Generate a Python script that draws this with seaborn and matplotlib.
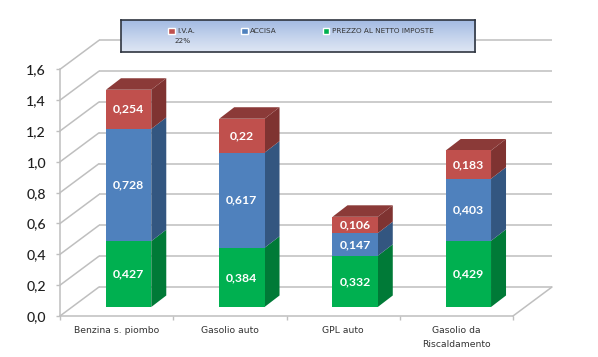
import numpy as np
import matplotlib
matplotlib.use("Agg")
import matplotlib.pyplot as plt
from matplotlib.patches import Polygon, Patch
from matplotlib.transforms import Affine2D, IdentityTransform
from matplotlib.colors import LinearSegmentedColormap
import seaborn as sns

categories = ["Benzina s. piombo", "Gasolio auto", "GPL auto", "Gasolio da\nRiscaldamento"]
prezzo = [0.427, 0.384, 0.332, 0.429]
accisa = [0.728, 0.617, 0.147, 0.403]
iva = [0.254, 0.22, 0.106, 0.183]
value_labels = [["0,427", "0,384", "0,332", "0,429"],
                ["0,728", "0,617", "0,147", "0,403"],
                ["0,254", "0,22", "0,106", "0,183"]]
yticks = [0.0, 0.2, 0.4, 0.6, 0.8, 1.0, 1.2, 1.4, 1.6]
ytick_labels = ["0,0", "0,2", "0,4", "0,6", "0,8", "1,0", "1,2", "1,4", "1,6"]
legend_labels = ["I.V.A.", "ACCISA", "PREZZO AL NETTO IMPOSTE"]
legend_note = "22%"

sns.set_theme(style="white")
plt.rcParams["font.family"] = ["DejaVu Sans"]
W, H = 598, 357
fig = plt.figure(figsize=(W / 100, H / 100), dpi=100, facecolor="white")
ax = fig.add_axes([60 / W, (H - 316) / H, 453 / W, 246.7 / H])
ax.set_facecolor("none")

GRID = "#BFBFBF"
front_shift = Affine2D().translate(12, 9)
depth_dx, depth_dy = 15, 11.5
wall_dx, wall_dy = 39, 29

faces = [("#00B050", "#007A37", "#007A37"),
         ("#4F81BD", "#335680", "#335680"),
         ("#C0504D", "#7F3331", "#8B3A38")]

bottoms = np.zeros(4)
containers = []
for vals, (col, _, _) in zip([prezzo, accisa, iva], faces):
    sns.barplot(x=categories, y=vals, bottom=bottoms, color=col, saturation=1,
                width=0.4, ax=ax, zorder=5, linewidth=0, clip_on=False)
    containers.append(ax.containers[-1])
    bottoms = bottoms + np.array(vals)

ax.set_xlim(-0.5, 3.5)
ax.set_ylim(0, 1.6)

# back wall and floor
back = ax.transData + Affine2D().translate(wall_dx, wall_dy)
ax.hlines(yticks, -0.5, 3.5, color=GRID, lw=1.1, transform=back, clip_on=False, zorder=1)
for y in yticks:
    p0 = ax.transData.transform((-0.5, y))
    ax.add_line(plt.Line2D([p0[0], p0[0] + wall_dx], [p0[1], p0[1] + wall_dy], color=GRID,
                           lw=1.1, transform=IdentityTransform(), clip_on=False, zorder=1))
p0 = ax.transData.transform((3.5, 0))
ax.add_line(plt.Line2D([p0[0], p0[0] + wall_dx], [p0[1], p0[1] + wall_dy], color=GRID,
                       lw=1.1, transform=IdentityTransform(), clip_on=False, zorder=1))

# 3D bar faces derived from the drawn bars
for k, (cont, (col, side, top)) in enumerate(zip(containers, faces)):
    for i, rect in enumerate(cont):
        rect.set_transform(ax.transData + front_shift)
        x0, y0 = rect.get_x(), rect.get_y()
        x1, y1 = x0 + rect.get_width(), y0 + rect.get_height()
        a = front_shift.transform(ax.transData.transform((x1, y0)))
        b = front_shift.transform(ax.transData.transform((x1, y1)))
        c = front_shift.transform(ax.transData.transform((x0, y1)))
        off = np.array([depth_dx, depth_dy])
        ax.add_patch(Polygon([a, a + off, b + off, b], closed=True, fc=side, ec="none",
                             transform=IdentityTransform(), clip_on=False, zorder=4))
        if k == 2:
            ax.add_patch(Polygon([c, b, b + off, c + off], closed=True, fc=top, ec="none",
                                 transform=IdentityTransform(), clip_on=False, zorder=4))
        ax.text((x0 + x1) / 2, (y0 + y1) / 2, value_labels[k][i], color="white", fontsize=8.8,
                fontfamily="Lato", fontweight="bold", ha="center", va="center",
                transform=ax.transData + front_shift, zorder=6, clip_on=False)

sns.despine(ax=ax, top=True, right=True)
for s in ("left", "bottom"):
    ax.spines[s].set_color(GRID)
    ax.spines[s].set_linewidth(1.1)
ax.set_yticks(yticks)
ax.set_yticklabels(ytick_labels, fontfamily="Lato", fontweight="medium", fontsize=10.2, color="#1F1F1F")
ax.tick_params(axis="y", left=True, length=3, width=1, color=GRID, pad=7)
ax.set_xticks(range(4))
ax.set_xticklabels(categories, fontsize=6.7, color="#333333", linespacing=1.75)
ax.set_xticks([-0.5, 0.5, 1.5, 2.5, 3.5], minor=True)
ax.tick_params(axis="x", which="major", bottom=False, pad=1)
ax.tick_params(axis="x", which="minor", bottom=True, length=3, width=1, color=GRID)

# legend band
lax = fig.add_axes([120.5 / W, (H - 52) / H, 354.5 / W, 32 / H], zorder=10)
cmap = LinearSegmentedColormap.from_list("band", ["#A3BBE3", "#C3D2EC", "#DEE6F4"])
lax.imshow(np.linspace(0, 1, 32).reshape(-1, 1), aspect="auto", cmap=cmap)
lax.set_xticks([]); lax.set_yticks([])
for s in lax.spines.values():
    s.set_visible(True)
    s.set_color("#2F3540")
    s.set_linewidth(1.2)
lax.grid(False)
handles = [Patch(fc=faces[2][0]), Patch(fc=faces[1][0]), Patch(fc=faces[0][0])]
leg = lax.legend(handles, legend_labels, ncol=3, frameon=False, fontsize=5.2, loc="upper left",
                 bbox_to_anchor=(0.127, 0.84), borderaxespad=0.0, handlelength=0.9, handleheight=0.9,
                 handletextpad=0.35, columnspacing=6.35, labelcolor="#333333")
lax.text(0.176, 0.34, legend_note, transform=lax.transAxes, fontsize=5.2, color="#333333",
         ha="center", va="center")

fig.savefig("out.png", dpi=100, facecolor="white")
